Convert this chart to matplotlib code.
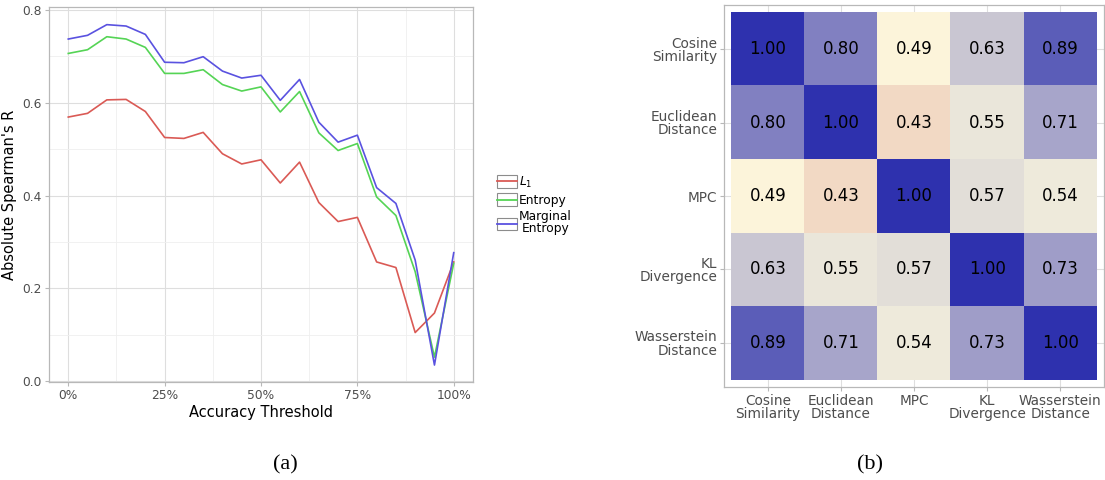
import matplotlib
matplotlib.use("Agg")
import matplotlib.pyplot as plt
import numpy as np
from matplotlib.colors import LinearSegmentedColormap, Normalize
from matplotlib.legend_handler import HandlerLine2D
from matplotlib.patches import Rectangle
from matplotlib.lines import Line2D

# ─── data ────────────────────────────────────────────
thresholds = np.arange(0, 101, 5)

l1 = [0.569, 0.577, 0.606, 0.607, 0.581, 0.525, 0.523, 0.536, 0.490, 0.468, 0.477,
      0.427, 0.472, 0.385, 0.344, 0.353, 0.257, 0.245, 0.105, 0.147, 0.257]
entropy = [0.706, 0.714, 0.742, 0.737, 0.719, 0.663, 0.663, 0.671, 0.639, 0.625, 0.634,
           0.580, 0.624, 0.535, 0.497, 0.512, 0.397, 0.357, 0.236, 0.052, 0.254]
marginal = [0.737, 0.745, 0.768, 0.765, 0.747, 0.687, 0.686, 0.699, 0.668, 0.653, 0.659,
            0.605, 0.650, 0.558, 0.515, 0.530, 0.417, 0.383, 0.261, 0.035, 0.277]

series_labels = ["$L_1$", "Entropy", "Marginal\nEntropy"]
series_colors = ["#DA5A55", "#55D455", "#5A52E0"]

metrics = ["Cosine\nSimilarity", "Euclidean\nDistance", "MPC", "KL\nDivergence",
           "Wasserstein\nDistance"]
corr = np.array([
    [1.00, 0.80, 0.49, 0.63, 0.89],
    [0.80, 1.00, 0.43, 0.55, 0.71],
    [0.49, 0.43, 1.00, 0.57, 0.54],
    [0.63, 0.55, 0.57, 1.00, 0.73],
    [0.89, 0.71, 0.54, 0.73, 1.00],
])

# ─── figure ──────────────────────────────────────────
fig = plt.figure(figsize=(11.05, 4.8), dpi=100)
fig.patch.set_facecolor("white")

GRID_MAJ = "#DEDEDE"
GRID_MIN = "#EFEFEF"
BORDER = "#B8B8B8"
TXT = "#4D4D4D"

# (a) line chart
ax = fig.add_axes([49 / 1105, 1 - 382 / 480, 424 / 1105, 375 / 480])
for vals, lab, col in zip([l1, entropy, marginal], series_labels, series_colors):
    ax.plot(thresholds, vals, color=col, lw=1.2, label=lab, zorder=3)

ax.set_xlim(-5, 105)
ax.set_ylim(-0.0015, 0.806)
ax.set_xticks([0, 25, 50, 75, 100])
ax.set_xticklabels(["0%", "25%", "50%", "75%", "100%"])
ax.set_yticks([0.0, 0.2, 0.4, 0.6, 0.8])
ax.set_yticklabels(["0.0", "0.2", "0.4", "0.6", "0.8"])
ax.set_xticks([12.5, 37.5, 62.5, 87.5], minor=True)
ax.set_yticks([0.1, 0.3, 0.5, 0.7], minor=True)
ax.grid(which="major", color=GRID_MAJ, lw=0.8, zorder=0)
ax.grid(which="minor", color=GRID_MIN, lw=0.6, zorder=0)
ax.set_axisbelow(True)
ax.tick_params(which="major", length=3, color=BORDER, labelsize=8.8,
               labelcolor=TXT, pad=2)
ax.tick_params(which="minor", length=0)
for s in ax.spines.values():
    s.set_color(BORDER)
    s.set_linewidth(0.9)
ax.set_xlabel("Accuracy Threshold", fontsize=10.5, labelpad=2)
ax.set_ylabel("Absolute Spearman's R", fontsize=10.5, labelpad=4)


class BoxedLine(HandlerLine2D):
    def create_artists(self, legend, orig_handle, xdescent, ydescent,
                       width, height, fontsize, trans):
        rect = Rectangle((-xdescent, -ydescent), width, height,
                         facecolor="white", edgecolor="#8C8C8C", lw=0.8,
                         transform=trans)
        y = -ydescent + height / 2
        line = Line2D([-xdescent, -xdescent + width], [y, y],
                      color=orig_handle.get_color(), lw=1.3, transform=trans)
        return [rect, line]


handles, labels = ax.get_legend_handles_labels()
leg = fig.legend(handles, labels, loc="center left",
                 bbox_to_anchor=(486 / 1105, 1 - 205 / 480),
                 frameon=False, fontsize=8.8, handlelength=1.6,
                 handleheight=1.2, handletextpad=0.2, labelspacing=0.3,
                 handler_map={Line2D: BoxedLine()})
for t in leg.get_texts():
    t.set_multialignment("center")
    t.set_linespacing(0.9)

# (b) heatmap
cmap = LinearSegmentedColormap.from_list(
    "corr", [(0.0, "#F2D9C4"), (0.07 / 0.57, "#FFFADF"), (1.0, "#2E31AE")])
hx = fig.add_axes([724 / 1105, 1 - 387 / 480, 380 / 1105, 382 / 480])
hx.imshow(corr, cmap=cmap, norm=Normalize(0.43, 1.0), aspect="auto",
          extent=(-0.5, 4.5, 4.5, -0.5), zorder=2)
for i in range(len(metrics)):
    for j in range(len(metrics)):
        hx.text(j, i, f"{corr[i, j]:.2f}", ha="center", va="center",
                fontsize=12, color="black", zorder=3)
hx.set_xlim(-0.6, 4.6)
hx.set_ylim(4.6, -0.6)
hx.set_xticks(range(len(metrics)))
hx.set_xticklabels(metrics, linespacing=0.95)
hx.set_yticks(range(len(metrics)))
hx.set_yticklabels(metrics, linespacing=0.95, multialignment="right")
hx.grid(color=GRID_MAJ, lw=0.8, zorder=0)
hx.set_axisbelow(True)
hx.tick_params(length=3, color=BORDER, labelsize=9.8, labelcolor=TXT, pad=2)
for s in hx.spines.values():
    s.set_color(BORDER)
    s.set_linewidth(0.9)

# captions
fig.text(285 / 1105, 1 - 465 / 480, "(a)", ha="center", va="center",
         family="Liberation Serif", fontsize=16)
fig.text(870 / 1105, 1 - 465 / 480, "(b)", ha="center", va="center",
         family="Liberation Serif", fontsize=16)

fig.savefig("out.png", dpi=100, facecolor="white")
